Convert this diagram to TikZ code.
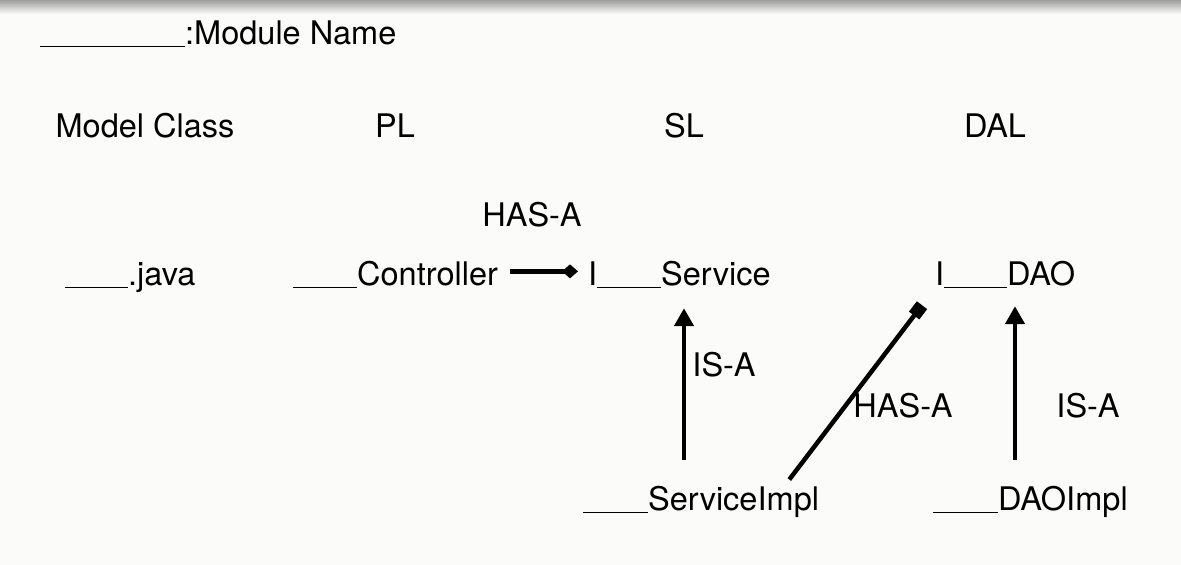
\documentclass[tikz,border=0pt]{standalone}
\usepackage{fontspec}
\setmainfont{TeX Gyre Heros}
\usepackage{tikz}
\usetikzlibrary{arrows.meta}
\definecolor{paper}{HTML}{FBFBF9}
\newcommand{\blank}[1]{\rule[-3pt]{#1}{1.3pt}}

\begin{document}
\begin{tikzpicture}[x=1pt, y=-1pt, font=\fontsize{32.5}{39}\selectfont,
  t/.style={anchor=base west, inner sep=0pt},
  l/.style={anchor=base, inner sep=0pt},
  isa/.style={line width=4.5pt, -{Triangle[width=19pt,length=18pt]}},
  has/.style={line width=4.5pt, -{Diamond[width=14pt,length=16pt]}},
  hasq/.style={line width=4.5pt, -{Square[width=13pt,length=13pt]}}]
\fill[paper] (0,0) rectangle (1181,565);
\useasboundingbox (0,0) rectangle (1181,565);
\shade[top color=gray!75, bottom color=paper] (0,0) rectangle (1181,14);
\node[t] (title) at (40,44) {\blank{145pt}:Module Name};
\node[l] (mc) at (145,137) {Model Class}; \node[l] (pl) at (395,137) {PL};
\node[l] (sl) at (684,137) {SL}; \node[l] (dal) at (995,137) {DAL};
\node[l] (hasa) at (532,226) {HAS-A};
\node[t] (java) at (65,285) {\blank{63pt}.java};
\node[t] (ctrl) at (293,285) {\blank{64pt}Controller};
\node[t] (isvc) at (588,285) {I\blank{64pt}Service};
\node[t] (idao) at (935,285) {I\blank{63pt}DAO};
\node[t] (simpl) at (583,510) {\blank{65pt}ServiceImpl};
\node[t] (dimpl) at (933,510) {\blank{65pt}DAOImpl};
\node[l] (isa1) at (724,376) {IS-A};
\node[l] (hasa2) at (903,417) {HAS-A};
\node[l] (isa2) at (1088,417) {IS-A};
\coordinate (sx) at (684,0); \coordinate (dx) at (1015,0);
\draw[has, shorten <=12pt, shorten >=10pt] ([yshift=3pt]ctrl.east) -- ([yshift=3pt]isvc.west);
\draw[isa, shorten <=26pt, shorten >=20pt] (simpl.north -| sx) -- (isvc.south -| sx);
\draw[isa, shorten <=26pt, shorten >=18pt] (dimpl.north -| dx) -- (idao.south -| dx);
\draw[hasq] ([xshift=-30pt,yshift=6pt]simpl.north east) -- ([xshift=-13pt,yshift=-17pt]idao.south west);
\end{tikzpicture}
\end{document}
